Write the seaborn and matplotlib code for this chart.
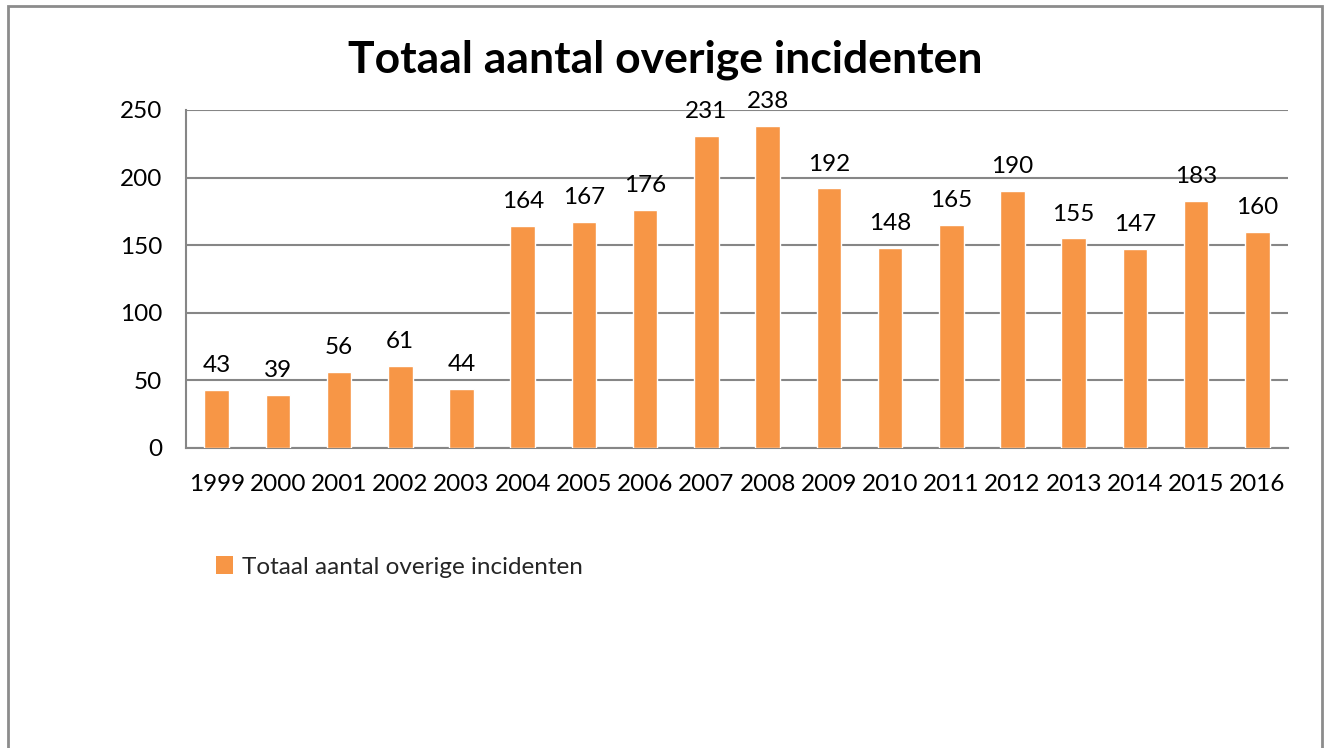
import matplotlib
matplotlib.use("Agg")
import matplotlib.pyplot as plt
import seaborn as sns
import pandas as pd
from matplotlib.patches import Patch, Rectangle

years = ["1999", "2000", "2001", "2002", "2003", "2004", "2005", "2006", "2007",
         "2008", "2009", "2010", "2011", "2012", "2013", "2014", "2015", "2016"]
values = [43, 39, 56, 61, 44, 164, 167, 176, 231, 238, 192, 148, 165, 190, 155, 147, 183, 160]
series_name = "Totaal aantal overige incidenten"
title = "Totaal aantal overige incidenten"
yticks = [0, 50, 100, 150, 200, 250]

sns.set_theme(style="white")
plt.rcParams["font.family"] = ["Lato", "DejaVu Sans"]

BAR = "#F79646"
GRID = "#868686"
FS = 17.5

df = pd.DataFrame({"year": years, "value": values})

W, H = 1328, 748
fig = plt.figure(figsize=(W / 100, H / 100), dpi=100)
fig.patch.set_facecolor("white")
ax = fig.add_axes([186 / W, 1 - 448 / H, (1288 - 186) / W, (448 - 110) / H])

sns.barplot(data=df, x="year", y="value", color=BAR, width=0.4, saturation=1, ax=ax, zorder=3)

ax.set_xlim(-0.5, len(years) - 0.5)
ax.set_ylim(0, 250)
ax.set_yticks(yticks)
ax.set_yticklabels([str(t) for t in yticks], fontsize=FS)
ax.set_xlabel("")
ax.set_ylabel("")
ax.tick_params(axis="x", which="major", length=0, pad=19, labelsize=FS, labelcolor="black")
ax.set_xticks([i - 0.5 for i in range(len(years) + 1)], minor=True)
ax.tick_params(axis="x", which="minor", length=6, width=1.5, color=GRID, direction="out")
ax.tick_params(axis="y", length=6, width=1.5, color=GRID, direction="out", pad=11, labelcolor="black")
ax.grid(axis="y", color=GRID, linewidth=1.5, zorder=0)
ax.set_axisbelow(True)
for s in ["top", "right"]:
    ax.spines[s].set_visible(False)
for s in ["left", "bottom"]:
    ax.spines[s].set_color(GRID)
    ax.spines[s].set_linewidth(1.5)

for i, v in enumerate(values):
    ax.annotate(str(v), (i, v), xytext=(0, 10), textcoords="offset points",
                ha="center", va="bottom", fontsize=FS, color="black")

fig.text(665 / W, 1 - 60 / H, title, ha="center", va="center",
         fontsize=32, fontweight="bold", color="black")

leg = fig.legend(handles=[Patch(facecolor=BAR, edgecolor="none", label=series_name)],
                 loc="center left", bbox_to_anchor=(216 / W, 1 - 567 / H),
                 frameon=False, fontsize=FS, handlelength=0.7, handleheight=0.7,
                 handletextpad=0.35, borderpad=0, borderaxespad=0)

fig.patches.append(Rectangle((8 / W, -0.05), (1322 - 8) / W, 1 - 6 / H + 0.05,
                             transform=fig.transFigure, fill=False,
                             edgecolor="#8C8C8C", linewidth=2, clip_on=False))

fig.savefig("out.png", dpi=100, facecolor="white")
